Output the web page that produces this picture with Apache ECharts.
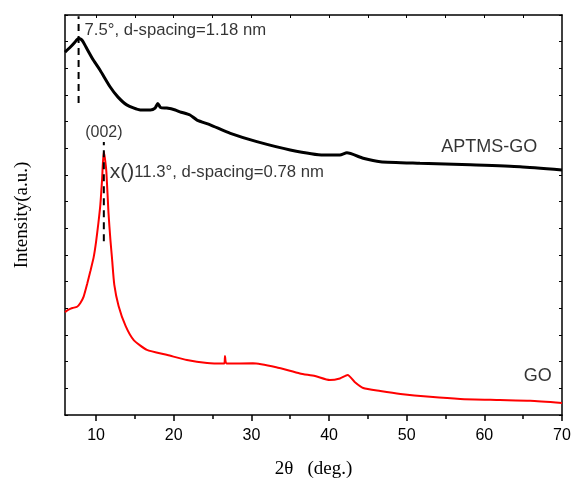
<!DOCTYPE html>
<html>
<head>
<meta charset="utf-8">
<script src="https://cdn.jsdelivr.net/npm/echarts@6/dist/echarts.min.js"></script>
<style>
html,body{margin:0;padding:0;background:#fff;}
#chart{width:571px;height:482px;}
</style>
</head>
<body>
<div id="chart"></div>
<script>
// ---- Data ----
const aptmsTheta = [6.0, 6.7, 7.3, 7.55, 7.8, 8.05, 8.3, 8.7, 9.65, 10.5, 11.8, 12.8, 13.95, 15.7, 17.0, 17.6, 17.95, 18.3, 19.1, 20.2, 20.8, 22.1, 23.0, 24.7, 27.3, 30.7, 35.0, 39.3, 41.4, 42.3, 44.4, 46.6, 51.7, 58.2, 64.6, 70.0];
const aptmsIntensity = [13.61, 13.8, 13.99, 14.08, 14.12, 14.09, 14.01, 13.8, 13.31, 12.94, 12.31, 11.93, 11.63, 11.44, 11.44, 11.51, 11.68, 11.53, 11.51, 11.44, 11.37, 11.25, 11.06, 10.88, 10.56, 10.25, 9.94, 9.75, 9.75, 9.83, 9.63, 9.5, 9.44, 9.38, 9.31, 9.19];

const goTheta = [6.0, 6.4, 6.95, 7.56, 7.98, 8.4, 8.85, 9.27, 9.7, 10.0, 10.3, 10.55, 10.77, 10.98, 11.13, 11.33, 11.6, 11.85, 12.05, 12.35, 12.9, 13.8, 14.85, 16.55, 19.2, 21.7, 24.3, 26.5, 26.6, 26.8, 30.2, 33.2, 36.25, 38.2, 40.1, 41.4, 42.4, 43.3, 44.4, 46.6, 49.2, 53.0, 56.9, 62.0, 65.9, 70.0];
const goIntensity = [3.86, 3.94, 4.01, 4.06, 4.2, 4.44, 4.91, 5.4, 5.93, 6.49, 7.2, 7.88, 8.81, 9.87, 9.64, 9.11, 7.58, 6.56, 5.89, 4.88, 4.09, 3.34, 2.81, 2.44, 2.25, 2.06, 1.95, 1.93, 2.21, 1.93, 1.94, 1.79, 1.56, 1.46, 1.31, 1.37, 1.5, 1.24, 1.01, 0.9, 0.79, 0.68, 0.6, 0.56, 0.53, 0.45];

// peak marker lines: [theta, lowIntensity, highIntensity]
const aptmsPeakMarker = [7.75, 11.7, 14.95];
const goPeakMarker = [11.0, 6.52, 10.24];

// tick values
const xMajorTicks = [10, 20, 30, 40, 50, 60, 70];
const xMinorTicks = [15, 25, 35, 45, 55, 65];
const xTopTicks = [10, 15, 20, 25, 30, 35, 40, 45, 50, 55, 60, 65];

// text annotations: [theta, intensity, text]
const annoRight = [
  [7.75, 14.44, '7.5°, d-spacing=1.18 nm'],
  [11.0, 9.11, '{big|x()}11.3°, d-spacing=0.78 nm']
];
const annoCenter = [
  [11.0, 10.58, '(002)'],
  [60.64, 10.05, 'APTMS-GO'],
  [66.89, 1.46, 'GO']
];

const zip = (a, b) => a.map((v, i) => [v, b[i]]);
const SANS = '"Liberation Sans", Arial, sans-serif';
const SERIF = '"Liberation Serif", "Times New Roman", serif';

const chart = echarts.init(document.getElementById('chart'), null, {renderer: 'canvas'});
const axisLineStyle = {color: '#000', width: 1.5};

chart.setOption({
  animation: false,
  backgroundColor: '#fff',
  grid: {left: 65, right: 9, top: 15, bottom: 67, outerBoundsMode: 'none'},
  xAxis: [
    {
      type: 'value', min: 6, max: 70, position: 'bottom',
      axisLine: {show: true, onZero: false, lineStyle: axisLineStyle},
      axisTick: {show: true, inside: false, length: 6, customValues: xMajorTicks, lineStyle: {color: '#000', width: 1.5}},
      axisLabel: {show: true, customValues: xMajorTicks, margin: 13, fontSize: 16, color: '#000', fontFamily: SANS},
      splitLine: {show: false},
      name: '2θ   (deg.)', nameLocation: 'middle', nameGap: 45,
      nameTextStyle: {fontSize: 19, fontFamily: SERIF, color: '#000'}
    },
    {
      type: 'value', min: 6, max: 70, position: 'bottom',
      axisLine: {show: false, onZero: false},
      axisTick: {show: true, inside: false, length: 4, customValues: xMinorTicks, lineStyle: {color: '#000', width: 1.5}},
      axisLabel: {show: false}, splitLine: {show: false}
    },
    {
      type: 'value', min: 6, max: 70, position: 'top',
      axisLine: {show: true, onZero: false, lineStyle: axisLineStyle},
      axisTick: {show: true, inside: true, length: 3, customValues: xTopTicks, lineStyle: {color: '#000', width: 1}},
      axisLabel: {show: false}, splitLine: {show: false}
    }
  ],
  yAxis: [
    {
      type: 'value', min: 0, max: 15, interval: 1, position: 'left',
      axisLine: {show: true, onZero: false, lineStyle: axisLineStyle},
      axisTick: {show: true, inside: true, length: 3, lineStyle: {color: '#000', width: 1}},
      axisLabel: {show: false}, splitLine: {show: false},
      name: 'Intensity(a.u.)', nameLocation: 'middle', nameGap: 33,
      nameTextStyle: {fontSize: 19, fontFamily: SERIF, color: '#000'}
    },
    {
      type: 'value', min: 0, max: 15, interval: 1, position: 'right',
      axisLine: {show: true, onZero: false, lineStyle: axisLineStyle},
      axisTick: {show: true, inside: true, length: 3, lineStyle: {color: '#000', width: 1}},
      axisLabel: {show: false}, splitLine: {show: false}
    }
  ],
  series: [
    {
      name: 'GO', type: 'line', xAxisIndex: 0, yAxisIndex: 0,
      data: zip(goTheta, goIntensity), showSymbol: false, symbol: 'none',
      smooth: 0.2,
      lineStyle: {color: '#ff0000', width: 2}, z: 2
    },
    {
      name: 'APTMS-GO', type: 'line', xAxisIndex: 0, yAxisIndex: 0,
      data: zip(aptmsTheta, aptmsIntensity), showSymbol: false, symbol: 'none',
      smooth: 0.2,
      lineStyle: {color: '#000', width: 3}, z: 2
    },
    {
      type: 'line', xAxisIndex: 0, yAxisIndex: 0, symbol: 'none',
      data: [[aptmsPeakMarker[0], aptmsPeakMarker[1]], [aptmsPeakMarker[0], aptmsPeakMarker[2]]],
      lineStyle: {color: '#000', width: 2, type: [7, 5]}, z: 3
    },
    {
      type: 'line', xAxisIndex: 0, yAxisIndex: 0, symbol: 'none',
      data: [[goPeakMarker[0], goPeakMarker[1]], [goPeakMarker[0], goPeakMarker[2]]],
      lineStyle: {color: '#000', width: 2, type: [7, 5]}, z: 3
    },
    {
      type: 'scatter', xAxisIndex: 0, yAxisIndex: 0, symbolSize: 0,
      itemStyle: {color: 'rgba(0,0,0,0)'},
      data: annoRight.map(d => ({value: [d[0], d[1]], label: {formatter: d[2]}})),
      label: {show: true, position: 'right', distance: 6, fontSize: 16.7, color: '#000', fontFamily: SANS,
        rich: {big: {fontSize: 21, color: '#000', fontFamily: SANS}}},
      z: 4
    },
    {
      type: 'scatter', xAxisIndex: 0, yAxisIndex: 0, symbolSize: 0,
      itemStyle: {color: 'rgba(0,0,0,0)'},
      data: annoCenter.map((d, i) => ({value: [d[0], d[1]], label: {formatter: d[2], fontSize: i === 0 ? 16 : 18}})),
      label: {show: true, position: 'inside', color: '#000', fontFamily: SANS},
      z: 4
    }
  ]
});
</script>
</body>
</html>
